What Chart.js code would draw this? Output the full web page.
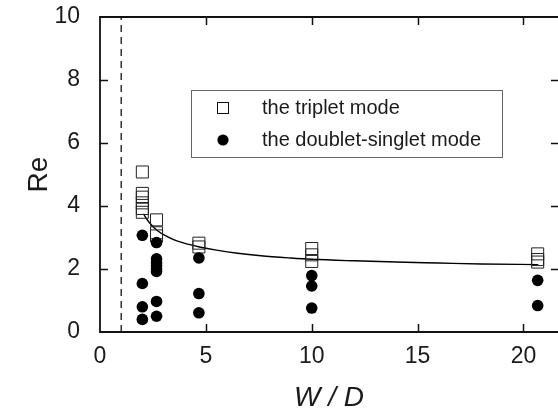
<!DOCTYPE html>
<html>
<head>
<meta charset="utf-8">
<script src="https://cdn.jsdelivr.net/npm/chart.js@4.4.0/dist/chart.umd.min.js"></script>
<style>
  html, body { margin: 0; padding: 0; background: #fff; }
  canvas { display: block; }
</style>
</head>
<body>
<canvas id="grafico" width="558" height="413"></canvas>
<script>
  // triplet mode (open squares)
  let tripletX = [2, 2, 2, 2, 2, 2, 2.67, 2.67, 2.67, 4.67, 4.67, 10, 10, 10, 20.67, 20.67, 20.67];
  let tripletY = [5.08, 4.4, 4.28, 4.1, 3.92, 3.8, 3.56, 3.15, 3.05, 2.82, 2.7, 2.65, 2.45, 2.24, 2.48, 2.3, 2.22];

  // doublet-singlet mode (filled circles)
  let doubletX = [2, 2, 2, 2, 2.67, 2.67, 2.67, 2.67, 2.67, 2.67, 2.67, 2.67, 4.67, 4.67, 4.67, 10, 10, 10, 20.67, 20.67];
  let doubletY = [3.07, 1.54, 0.8, 0.4, 2.84, 2.32, 2.2, 2.1, 2.0, 1.92, 0.97, 0.5, 2.35, 1.22, 0.61, 1.79, 1.46, 0.76, 1.64, 0.84];

  // fitted curve through the triplet points
  let curvaX = [2.05, 2.3, 2.7, 3.2, 3.6, 4.2, 4.7, 5.5, 6.5, 7.6, 9, 10, 12, 14, 16, 18, 20.7];
  let curvaY = [3.75, 3.5, 3.22, 3.02, 2.9, 2.78, 2.7, 2.6, 2.5, 2.42, 2.35, 2.31, 2.26, 2.22, 2.19, 2.16, 2.14];

  // vertical dashed line at W/D = 1
  let limiteX = [1, 1];
  let limiteY = [0, 10];

  let xTicks = [0, 5, 10, 15, 20];
  let yTicks = [0, 2, 4, 6, 8, 10];
  let xMax = 21.63;

  let legendaTextos = ["the triplet mode", "the doublet-singlet mode"];

  function pontos(xs, ys) {
    let lista = [];
    for (let i = 0; i < xs.length; i++) {
      lista.push({ x: xs[i], y: ys[i] });
    }
    return lista;
  }

  const corTexto = "#1a1a1a";
  const fonte = "'Liberation Sans', Arial, sans-serif";

  // frame with inward ticks on all sides
  const moldura = {
    id: "moldura",
    afterDatasetsDraw(chart) {
      const ctx = chart.ctx;
      const a = chart.chartArea;
      const sx = chart.scales.x;
      const sy = chart.scales.y;
      ctx.save();
      ctx.strokeStyle = "#111";
      ctx.lineWidth = 1.8;
      ctx.beginPath();
      ctx.moveTo(a.right + 2, a.top);
      ctx.lineTo(a.left, a.top);
      ctx.lineTo(a.left, a.bottom);
      ctx.lineTo(a.right + 2, a.bottom);
      ctx.stroke();

      ctx.lineWidth = 1.5;
      ctx.beginPath();
      xTicks.forEach(function (v) {
        if (v === 0) return;
        let px = Math.round(sx.getPixelForValue(v)) + 0.5;
        ctx.moveTo(px, a.bottom);
        ctx.lineTo(px, a.bottom - 8);
        ctx.moveTo(px, a.top);
        ctx.lineTo(px, a.top + 8);
      });
      yTicks.forEach(function (v) {
        if (v === 0 || v === 10) return;
        let py = Math.round(sy.getPixelForValue(v)) + 0.5;
        ctx.moveTo(a.left, py);
        ctx.lineTo(a.left + 8, py);
        ctx.moveTo(a.right, py);
        ctx.lineTo(a.right - 7, py);
      });
      ctx.stroke();
      ctx.restore();
    },
    afterDraw(chart) {
      // legend box
      const ctx = chart.ctx;
      ctx.save();
      ctx.strokeStyle = "#666";
      ctx.lineWidth = 1;
      ctx.strokeRect(191.5, 90.5, 311, 67);

      ctx.strokeStyle = "#111";
      ctx.strokeRect(217.5, 102.5, 11, 11);

      ctx.fillStyle = "#000";
      ctx.beginPath();
      ctx.arc(223, 140, 5.6, 0, Math.PI * 2);
      ctx.fill();

      ctx.fillStyle = corTexto;
      ctx.font = "20px " + fonte;
      ctx.textBaseline = "middle";
      ctx.textAlign = "left";
      ctx.fillText(legendaTextos[0], 262, 108);
      ctx.fillText(legendaTextos[1], 262, 140);
      ctx.restore();
    }
  };

  function semMargens(scale) {
    scale.paddingTop = 0;
    scale.paddingBottom = 0;
    scale.paddingLeft = 0;
    scale.paddingRight = 0;
  }

  var ctx1 = document.getElementById("grafico").getContext("2d");
  var meuGrafico = new Chart(ctx1, {
    type: "scatter",
    data: {
      datasets: [
        {
          label: legendaTextos[1],
          data: pontos(doubletX, doubletY),
          pointStyle: "circle",
          pointRadius: 5.8,
          backgroundColor: "#000",
          borderWidth: 0,
          order: 1,
        },
        {
          label: legendaTextos[0],
          data: pontos(tripletX, tripletY),
          pointStyle: "rect",
          pointRadius: 8.5,
          backgroundColor: "rgba(0,0,0,0)",
          borderColor: "#222",
          borderWidth: 1,
          order: 2,
        },
        {
          label: "ajuste",
          data: pontos(curvaX, curvaY),
          showLine: true,
          pointRadius: 0,
          borderColor: "#000",
          borderWidth: 1.4,
          cubicInterpolationMode: "monotone",
          order: 3,
        },
        {
          label: "limite",
          data: pontos(limiteX, limiteY),
          showLine: true,
          pointRadius: 0,
          borderColor: "#000",
          borderWidth: 1.2,
          borderDash: [7, 5],
          order: 4,
        },
      ],
    },
    options: {
      responsive: false,
      animation: false,
      devicePixelRatio: 1,
      layout: { autoPadding: false, padding: { left: 0, right: 0, top: 17, bottom: 0 } },
      plugins: {
        legend: { display: false },
        tooltip: { enabled: false },
      },
      scales: {
        x: {
          type: "linear",
          min: 0,
          max: xMax,
          grid: { display: false },
          border: { display: false },
          afterBuildTicks: function (scale) {
            scale.ticks = xTicks.map(function (v) { return { value: v }; });
          },
          afterFit: function (scale) { scale.height = 81; semMargens(scale); },
          ticks: {
            padding: 3,
            color: corTexto,
            font: { family: fonte, size: 23 },
          },
          title: {
            display: true,
            text: "W / D",
            color: corTexto,
            font: { family: fonte, size: 28, style: "italic", lineHeight: 1 },
            padding: { top: 0, bottom: 1 },
          },
        },
        y: {
          type: "linear",
          min: 0,
          max: 10,
          grid: { display: false },
          border: { display: false },
          afterBuildTicks: function (scale) {
            scale.ticks = yTicks.map(function (v) { return { value: v }; });
          },
          afterFit: function (scale) { scale.width = 100; semMargens(scale); },
          ticks: {
            padding: 12,
            color: corTexto,
            font: { family: fonte, size: 23 },
          },
          title: {
            display: true,
            text: "Re",
            color: corTexto,
            font: { family: fonte, size: 28, lineHeight: 1 },
            padding: { top: 25, bottom: 0 },
          },
        },
      },
    },
    plugins: [moldura],
  });
</script>
</body>
</html>
